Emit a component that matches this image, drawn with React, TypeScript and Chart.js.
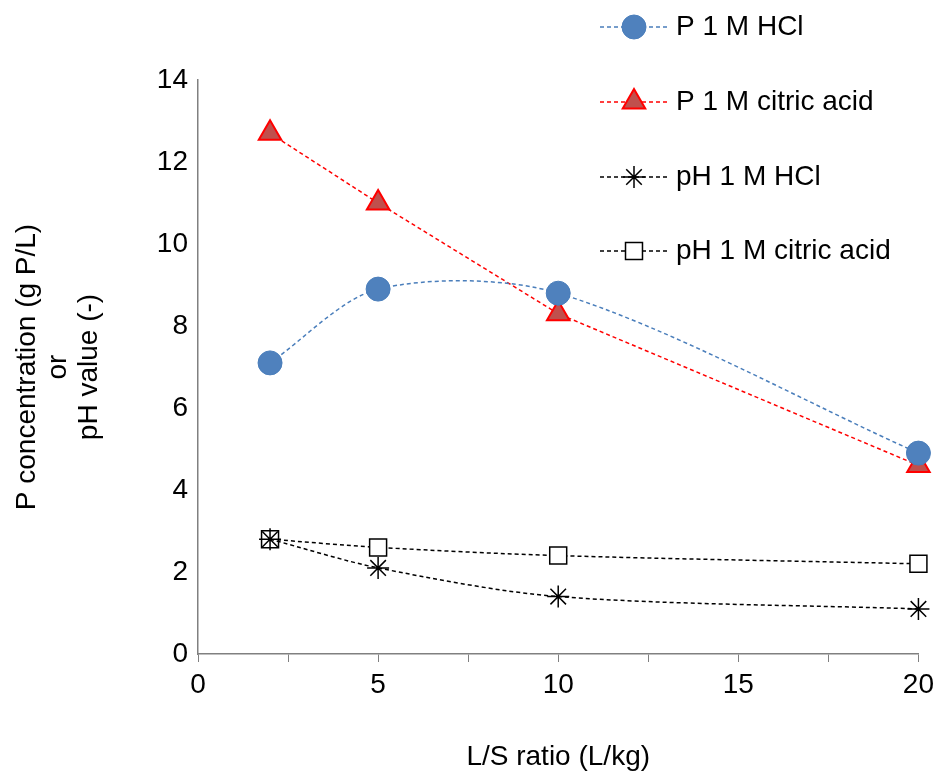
import React, { useEffect, useRef } from "react";
import { Chart, registerables } from "chart.js";

Chart.register(...registerables);

const lsRatio = [2, 5, 10, 20];
const pHcl = [7.1, 8.9, 8.8, 4.9];
const pCitric = [12.7, 11.0, 8.3, 4.6];
const phHcl = [2.8, 2.1, 1.4, 1.1];
const phCitric = [2.8, 2.6, 2.4, 2.2];
const seriesNames = ["P 1 M HCl", "P 1 M citric acid", "pH 1 M HCl", "pH 1 M citric acid"];

const FONT = "'Liberation Sans', Arial, sans-serif";
const SIZE = 28;

const pts = (ys: number[]) => ys.map((y, i) => ({ x: lsRatio[i], y }));

function drawMarker(ctx: CanvasRenderingContext2D, style: string, r: number, x: number, y: number) {
  ctx.beginPath();
  if (style === "circle") {
    ctx.arc(x, y, r, 0, Math.PI * 2);
    ctx.fill();
    ctx.stroke();
  } else if (style === "triangle") {
    const a = (Math.PI * 2) / 3;
    ctx.moveTo(x, y - r);
    ctx.lineTo(x + Math.sin(a) * r, y - Math.cos(a) * r);
    ctx.lineTo(x - Math.sin(a) * r, y - Math.cos(a) * r);
    ctx.closePath();
    ctx.fill();
    ctx.stroke();
  } else if (style === "rect") {
    const s = r / Math.SQRT2;
    ctx.rect(x - s, y - s, 2 * s, 2 * s);
    ctx.fill();
    ctx.stroke();
  } else {
    for (let k = 0; k < 4; k++) {
      const t = (k * Math.PI) / 4;
      ctx.moveTo(x - Math.cos(t) * r, y - Math.sin(t) * r);
      ctx.lineTo(x + Math.cos(t) * r, y + Math.sin(t) * r);
    }
    ctx.stroke();
  }
}

// legend with the line running through the marker, like the spreadsheet one
const lineLegend = {
  id: "lineLegend",
  afterDraw(chart: Chart) {
    const ctx = chart.ctx;
    const rows = [27, 102, 177, 251];
    chart.data.datasets.forEach((ds: any, i: number) => {
      const y = rows[i];
      ctx.save();
      ctx.strokeStyle = ds.borderColor;
      ctx.lineWidth = 1.5;
      ctx.setLineDash([4, 3]);
      ctx.beginPath();
      ctx.moveTo(600, y);
      ctx.lineTo(668, y);
      ctx.stroke();
      ctx.setLineDash([]);
      ctx.fillStyle = ds.pointBackgroundColor;
      ctx.strokeStyle = ds.pointBorderColor;
      ctx.lineWidth = ds.pointBorderWidth;
      drawMarker(ctx, ds.pointStyle, ds.pointRadius, 634, y);
      ctx.fillStyle = "#000";
      ctx.font = `${SIZE}px ${FONT}`;
      ctx.textBaseline = "middle";
      ctx.fillText(seriesNames[i], 676, y);
      ctx.restore();
    });
  },
};

export default function App() {
  const ref = useRef<HTMLCanvasElement | null>(null);

  useEffect(() => {
    const ctx = ref.current?.getContext("2d");
    if (!ctx) return;
    const chart = new Chart(ctx, {
      type: "line",
      data: {
        datasets: [
          {
            label: seriesNames[0],
            data: pts(pHcl),
            borderColor: "#4a7ebb",
            borderWidth: 1.5,
            borderDash: [4, 3],
            tension: 0.3,
            pointStyle: "circle",
            pointRadius: 12,
            pointBackgroundColor: "#4f81bd",
            pointBorderColor: "#4a7ebb",
            pointBorderWidth: 1,
          },
          {
            label: seriesNames[1],
            data: pts(pCitric),
            borderColor: "#ff0000",
            borderWidth: 1.5,
            borderDash: [4, 3],
            tension: 0,
            pointStyle: "triangle",
            pointRadius: 13,
            pointBackgroundColor: "#c0504d",
            pointBorderColor: "#ff0000",
            pointBorderWidth: 2,
          },
          {
            label: seriesNames[2],
            data: pts(phHcl),
            borderColor: "#000000",
            borderWidth: 1.5,
            borderDash: [4, 3],
            tension: 0.3,
            pointStyle: "star",
            pointRadius: 11,
            pointBackgroundColor: "#000000",
            pointBorderColor: "#000000",
            pointBorderWidth: 1.5,
          },
          {
            label: seriesNames[3],
            data: pts(phCitric),
            borderColor: "#000000",
            borderWidth: 1.5,
            borderDash: [4, 3],
            tension: 0.3,
            pointStyle: "rect",
            pointRadius: 12,
            pointBackgroundColor: "#ffffff",
            pointBorderColor: "#000000",
            pointBorderWidth: 1.5,
          },
        ] as any,
      },
      options: {
        animation: false,
        responsive: false,
        clip: false,
        layout: { padding: { top: 80, right: 20, left: 0, bottom: 0 } },
        plugins: { legend: { display: false }, tooltip: { enabled: false } },
        scales: {
          x: {
            type: "linear",
            min: 0,
            max: 20,
            ticks: {
              stepSize: 2.5,
              autoSkip: false,
              maxRotation: 0,
              color: "#000",
              font: { family: FONT, size: SIZE },
              padding: 6,
              callback: (v: any) => (Number(v) % 5 === 0 ? String(v) : ""),
            },
            grid: { drawOnChartArea: false, color: "#808080", tickLength: 8 },
            border: { color: "#808080", width: 1.5 },
            title: {
              display: true,
              text: "L/S ratio (L/kg)",
              color: "#000",
              font: { family: FONT, size: SIZE },
              padding: { top: 18 },
            },
            afterFit: (s: any) => {
              s.height = 124;
            },
          },
          y: {
            min: 0,
            max: 14,
            ticks: {
              stepSize: 2,
              color: "#000",
              font: { family: FONT, size: SIZE },
              padding: 10,
            },
            grid: { drawOnChartArea: false, drawTicks: false },
            border: { color: "#808080", width: 1.5 },
            title: {
              display: true,
              text: ["P concentration (g P/L)", "or", "pH value (-)"],
              color: "#000",
              font: { family: FONT, size: SIZE, lineHeight: 1.1 },
              padding: { top: 12 },
            },
            afterFit: (s: any) => {
              s.width = 198;
            },
          },
        },
      } as any,
      plugins: [lineLegend],
    });
    return () => chart.destroy();
  }, []);

  return (
    <div style={{ position: "fixed", left: 0, top: 0, width: 940, height: 778, background: "#fff" }}>
      <canvas ref={ref} width={940} height={778} />
    </div>
  );
}
